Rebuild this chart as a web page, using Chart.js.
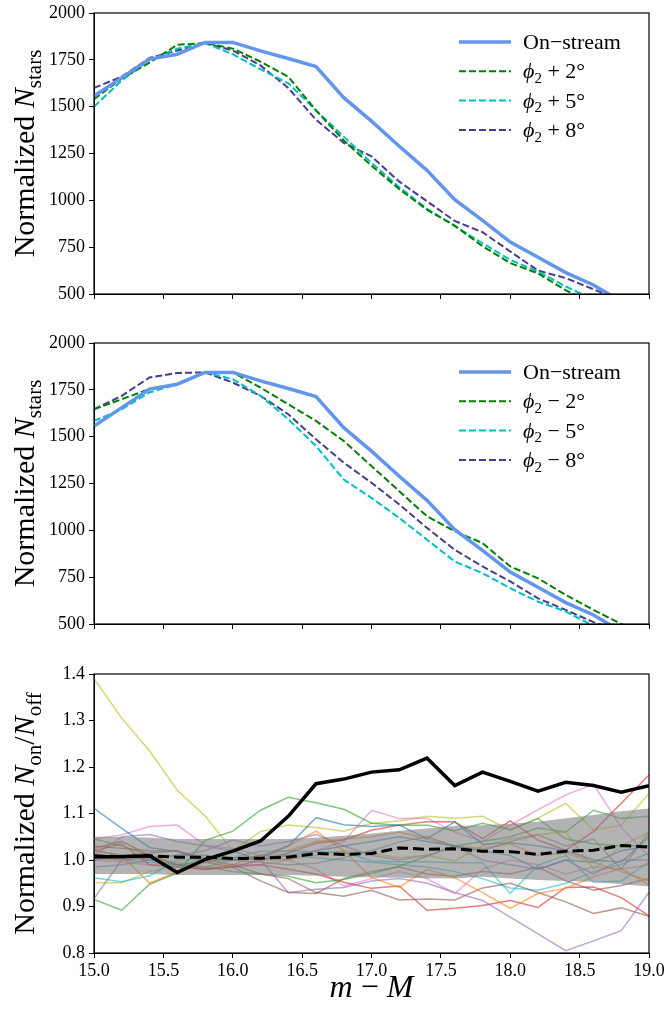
<!DOCTYPE html>
<html>
<head>
<meta charset="utf-8">
<script src="https://cdn.jsdelivr.net/npm/chart.js@4.4.0/dist/chart.umd.min.js"></script>
<style>
html, body { margin: 0; padding: 0; background: #fff; }
#wrap { position: relative; width: 666px; height: 1013px; }
canvas { position: absolute; left: 0; }
</style>
</head>
<body>
<div id="wrap">
<canvas id="graficoMais" width="666" height="310" style="top:0px"></canvas>
<canvas id="graficoMenos" width="666" height="310" style="top:330px"></canvas>
<canvas id="graficoRazao" width="666" height="363" style="top:650px"></canvas>
</div>
<script>
// distance modulus grid
var xs = [15.0, 15.2, 15.4, 15.6, 15.8, 16.0, 16.2, 16.4, 16.6, 16.8, 17.0, 17.2, 17.4, 17.6, 17.8, 18.0, 18.2, 18.4, 18.6, 18.8, 19.0];

// panel 1 / 2 : normalized star counts
var onStream = [1557, 1655, 1754, 1780, 1843, 1843, 1798, 1757, 1714, 1548, 1423, 1289, 1160, 1003, 893, 777, 696, 614, 548, 460, 390];
var plus2  = [1540, 1650, 1735, 1830, 1840, 1810, 1740, 1660, 1480, 1320, 1185, 1060, 950, 865, 755, 665, 610, 520, 450, 400, 350];
var plus5  = [1500, 1640, 1750, 1810, 1840, 1780, 1700, 1625, 1480, 1340, 1200, 1070, 955, 862, 771, 682, 620, 540, 470, 420, 370];
var plus8  = [1600, 1660, 1760, 1800, 1840, 1800, 1720, 1600, 1430, 1307, 1235, 1100, 995, 890, 830, 727, 625, 585, 525, 465, 420];
var minus2 = [1646, 1700, 1754, 1780, 1843, 1843, 1762, 1673, 1584, 1477, 1343, 1209, 1075, 995, 932, 807, 744, 655, 575, 500, 430];
var minus5 = [1584, 1646, 1736, 1780, 1843, 1807, 1718, 1593, 1450, 1271, 1173, 1066, 950, 834, 771, 691, 619, 566, 490, 450, 400];
var minus8 = [1646, 1718, 1816, 1840, 1843, 1789, 1718, 1620, 1486, 1361, 1254, 1138, 1013, 896, 807, 727, 637, 575, 510, 460, 410];

var yTicksCounts = [500, 750, 1000, 1250, 1500, 1750, 2000];
var yTicksRatio = [0.8, 0.9, 1.0, 1.1, 1.2, 1.3, 1.4];
var xTicks = [15.0, 15.5, 16.0, 16.5, 17.0, 17.5, 18.0, 18.5, 19.0];

// panel 3 : on / off ratios
var ratioOn   = [1.007, 1.007, 1.009, 0.973, 1.001, 1.019, 1.041, 1.094, 1.164, 1.174, 1.189, 1.194, 1.219, 1.160, 1.189, 1.169, 1.148, 1.167, 1.160, 1.146, 1.160];
var ratioMean = [1.009, 1.007, 1.009, 1.006, 1.006, 1.003, 1.004, 1.006, 1.014, 1.012, 1.014, 1.026, 1.023, 1.024, 1.019, 1.018, 1.012, 1.019, 1.021, 1.031, 1.028];
var bandHi = [1.050, 1.050, 1.048, 1.045, 1.045, 1.045, 1.045, 1.045, 1.048, 1.052, 1.057, 1.063, 1.068, 1.073, 1.075, 1.078, 1.082, 1.090, 1.097, 1.105, 1.111];
var bandLo = [0.970, 0.970, 0.970, 0.968, 0.968, 0.968, 0.968, 0.968, 0.966, 0.964, 0.963, 0.962, 0.961, 0.960, 0.964, 0.960, 0.957, 0.955, 0.953, 0.948, 0.943];

// individual off-stream fields
var offOliveA = [1.390, 1.305, 1.235, 1.150, 1.095, 1.020, 1.000, 1.000, 1.010, 1.020, 1.015, 1.005, 1.010, 0.998, 1.030, 1.045, 1.055, 1.060, 0.980, 1.030, 1.060];
var offOliveB = [0.951, 0.951, 0.975, 0.990, 1.000, 1.020, 1.061, 1.075, 1.070, 1.062, 1.079, 1.084, 1.094, 1.090, 1.094, 1.064, 1.090, 1.122, 1.064, 1.075, 1.143];
var offGreenA = [0.915, 0.892, 0.948, 0.972, 1.042, 1.062, 1.107, 1.135, 1.123, 1.109, 1.079, 1.075, 1.075, 1.063, 1.079, 1.065, 1.089, 1.045, 1.035, 1.030, 1.030];
var offGreenB = [1.045, 1.030, 1.010, 0.990, 0.985, 0.975, 0.970, 0.965, 0.951, 0.958, 0.971, 0.987, 1.008, 1.030, 1.040, 1.050, 1.069, 1.060, 1.107, 1.089, 1.094];
var offBlueA  = [1.111, 1.068, 1.027, 1.018, 1.005, 1.000, 1.005, 1.030, 1.091, 1.076, 1.072, 1.075, 1.046, 1.082, 1.034, 1.037, 1.030, 1.020, 1.000, 0.995, 1.050];
var offBlueB  = [1.000, 1.010, 1.000, 0.990, 0.995, 1.005, 1.000, 1.010, 1.020, 1.030, 1.040, 1.050, 1.040, 1.030, 1.020, 1.010, 0.980, 1.000, 0.995, 1.020, 1.030];
var offCyanA  = [0.962, 0.953, 0.966, 1.000, 1.000, 1.005, 1.019, 1.020, 1.018, 1.017, 0.998, 0.996, 0.996, 0.994, 0.994, 0.928, 0.989, 1.010, 0.952, 0.955, 0.996];
var offCyanB  = [1.005, 1.000, 0.995, 0.990, 0.985, 1.000, 1.010, 1.010, 1.005, 1.000, 0.995, 0.990, 0.985, 0.975, 0.960, 0.940, 0.935, 0.950, 0.975, 0.990, 1.015];
var offRedA   = [1.020, 1.035, 0.990, 0.985, 0.980, 0.985, 1.000, 1.015, 1.036, 1.043, 1.064, 1.075, 1.082, 1.082, 1.046, 1.084, 1.043, 1.021, 1.061, 1.122, 1.183];
var offRedB   = [1.025, 1.040, 1.010, 0.990, 0.980, 0.985, 0.990, 0.980, 0.970, 0.952, 0.939, 0.944, 0.892, 0.896, 0.902, 0.913, 0.898, 0.941, 0.942, 0.919, 0.880];
var offPinkA  = [1.045, 1.054, 1.072, 1.075, 1.032, 1.025, 1.010, 1.000, 1.020, 1.040, 1.107, 1.089, 1.090, 1.060, 1.040, 1.075, 1.108, 1.140, 1.163, 1.070, 1.008];
var offPinkB  = [1.000, 0.995, 0.990, 0.985, 0.980, 0.990, 0.990, 1.000, 0.980, 0.944, 0.960, 0.975, 0.960, 0.928, 0.980, 1.000, 0.990, 0.970, 0.985, 0.980, 0.990];
var offPurpA  = [1.010, 1.050, 1.055, 1.040, 1.030, 1.020, 1.000, 0.930, 0.937, 0.941, 0.955, 0.960, 0.950, 0.930, 0.913, 0.877, 0.841, 0.805, 0.826, 0.848, 0.930];
var offPurpB  = [0.985, 0.990, 1.000, 1.010, 1.020, 1.043, 1.030, 1.040, 1.055, 1.030, 1.010, 1.000, 1.010, 1.030, 1.000, 0.990, 0.980, 1.000, 0.970, 1.000, 1.000];
var offOrangA = [1.020, 1.010, 0.950, 0.975, 0.995, 1.000, 1.010, 1.030, 1.062, 1.020, 0.962, 0.941, 0.980, 0.962, 0.930, 0.896, 0.928, 0.939, 0.964, 0.982, 0.946];
var offOrangB = [1.005, 1.000, 1.005, 0.995, 0.985, 0.990, 1.010, 1.020, 1.040, 1.045, 1.050, 1.060, 1.045, 1.030, 1.025, 1.035, 1.010, 1.015, 0.995, 0.975, 0.955];
var offBrownA = [1.020, 1.010, 1.015, 1.020, 1.000, 0.990, 0.970, 0.960, 0.930, 0.922, 0.935, 0.914, 0.916, 0.914, 0.940, 0.950, 0.930, 0.910, 0.885, 0.897, 0.879];
var offBrownB = [1.030, 1.025, 1.020, 1.020, 0.995, 0.985, 0.955, 0.930, 0.928, 0.960, 0.975, 0.985, 0.970, 0.965, 0.975, 0.970, 0.985, 0.955, 0.935, 0.945, 0.960];
var offGray   = [0.917, 1.000, 1.005, 1.010, 1.010, 1.000, 0.995, 0.990, 0.993, 1.005, 1.020, 1.039, 1.050, 1.030, 1.020, 1.040, 1.054, 1.030, 1.045, 0.980, 1.060];

var offLines = [offBlueA, offOrangA, offGreenA, offRedA, offPurpA, offBrownA, offPinkA, offGray, offOliveA, offCyanA,
                offBlueB, offOrangB, offGreenB, offRedB, offPurpB, offBrownB, offPinkB, offOliveB, offCyanB];
var offColors = ['31,119,180', '255,127,14', '44,160,44', '214,39,40', '148,103,189', '140,86,75', '227,119,194', '127,127,127', '188,189,34', '23,190,207',
                 '31,119,180', '255,127,14', '44,160,44', '214,39,40', '148,103,189', '140,86,75', '227,119,194', '188,189,34', '23,190,207'];

var SERIF = "'Liberation Serif', 'DejaVu Serif', serif";

function pontos(ys) {
	return xs.map(function(x, i){ return {x: x, y: ys[i]}; });
}

function fonte(t, tam) {
	return (t.it ? 'italic ' : '') + Math.round(tam * (t.s || 1)) + 'px ' + SERIF;
}

function desenharTrechos(ctx, trechos, x, y, tam, centro) {
	var total = 0;
	trechos.forEach(function(t){ ctx.font = fonte(t, tam); total += ctx.measureText(t.t).width; });
	var cx = centro ? x - total / 2 : x;
	trechos.forEach(function(t){
		ctx.font = fonte(t, tam);
		ctx.fillText(t.t, cx, y + (t.dy || 0) * tam);
		cx += ctx.measureText(t.t).width;
	});
}

// frame, axis titles and legend
var textos = {
	id: 'textos',
	afterDraw: function(chart, args, opts){
		var a = chart.chartArea, c = chart.ctx;
		c.save();
		c.strokeStyle = '#000';
		c.lineWidth = 1.2;
		c.strokeRect(a.left, a.top, a.right - a.left, a.bottom - a.top);
		c.fillStyle = '#000';
		c.textBaseline = 'alphabetic';
		if (opts.tituloY) {
			c.save();
			c.translate(34, (a.top + a.bottom) / 2);
			c.rotate(-Math.PI / 2);
			desenharTrechos(c, opts.tituloY, 0, 0, 30, true);
			c.restore();
		}
		if (opts.tituloX) {
			desenharTrechos(c, opts.tituloX, (a.left + a.right) / 2, a.bottom + 44, 32, true);
		}
		(opts.legenda || []).forEach(function(item, i){
			var y = a.top + 29 + i * 29.3;
			c.save();
			c.strokeStyle = item.cor;
			c.lineWidth = item.largura;
			c.setLineDash(item.tracejado || []);
			c.beginPath();
			c.moveTo(a.left + 365, y);
			c.lineTo(a.left + 417, y);
			c.stroke();
			c.restore();
			desenharTrechos(c, item.texto, a.left + 429, y + 7, 22, false);
		});
		c.restore();
	}
};

function eixos(yMin, yMax, yTicks, mostrarX, alturaX, casas) {
	var grade = {drawOnChartArea: false, color: '#000', tickLength: 5, lineWidth: 1};
	return {
		x: {
			type: 'linear', min: 15, max: 19,
			afterBuildTicks: function(s){ s.ticks = xTicks.map(function(v){ return {value: v}; }); },
			ticks: {display: mostrarX, color: '#000', font: {family: SERIF, size: 18}, padding: 2, maxRotation: 0, autoSkip: false,
				callback: function(v){ return Number(v).toFixed(1); }},
			grid: grade,
			border: {color: '#000', width: 1},
			afterFit: function(s){ s.height = alturaX; s.paddingLeft = 0; s.paddingRight = 0; }
		},
		y: {
			min: yMin, max: yMax,
			afterBuildTicks: function(s){ s.ticks = yTicks.map(function(v){ return {value: v}; }); },
			ticks: {color: '#000', font: {family: SERIF, size: 18}, padding: 4, autoSkip: false,
				callback: function(v){ return Number(v).toFixed(casas); }},
			grid: grade,
			border: {color: '#000', width: 1},
			afterFit: function(s){ s.width = 94; s.paddingTop = 0; s.paddingBottom = 0; }
		}
	};
}

function linha(dados, cor, largura, tracejado, ordem) {
	return {data: pontos(dados), borderColor: cor, borderWidth: largura, borderDash: tracejado || [],
		pointRadius: 0, tension: 0, fill: false, order: ordem};
}

function tituloContagem() {
	return [{t: 'Normalized '}, {t: 'N', it: true}, {t: 'stars', s: 0.7, dy: 0.22}];
}

function legendaContagem(sinal) {
	var cores = ['#008000', '#00BFBF', '#483D8B'];
	var graus = ['2°', '5°', '8°'];
	var itens = [{cor: '#6495ED', largura: 3.5, texto: [{t: 'On\u2212stream'}]}];
	graus.forEach(function(g, i){
		itens.push({cor: cores[i], largura: 2, tracejado: [7, 3],
			texto: [{t: '\u03D5', it: true}, {t: '2', s: 0.7, dy: 0.22}, {t: ' ' + sinal + ' ' + g}]});
	});
	return itens;
}

function graficoContagem(id, d2, d5, d8, sinal) {
	return new Chart(document.getElementById(id).getContext('2d'), {
		type: 'line',
		data: {
			datasets: [
				linha(onStream, '#6495ED', 3.5, null, 0),
				linha(d2, '#008000', 2, [7, 3], 1),
				linha(d5, '#00BFBF', 2, [7, 3], 2),
				linha(d8, '#483D8B', 2, [7, 3], 3)
			]
		},
		options: {
			responsive: false, animation: false,
			layout: {padding: {left: 0, right: 17, top: 13, bottom: 0}},
			scales: eixos(500, 2000, yTicksCounts, false, 16, 0),
			plugins: {legend: {display: false}, tooltip: {enabled: false},
				textos: {tituloY: tituloContagem(), legenda: legendaContagem(sinal)}}
		},
		plugins: [textos]
	});
}

graficoContagem('graficoMais', plus2, plus5, plus8, '+');
graficoContagem('graficoMenos', minus2, minus5, minus8, '\u2212');

var conjuntos = [
	linha(ratioOn, '#000', 3.5, null, 0),
	linha(ratioMean, '#000', 3, [11, 5], 1),
	{data: pontos(bandHi), borderWidth: 0, pointRadius: 0, backgroundColor: 'rgba(128,128,128,0.6)', fill: '+1', order: 2},
	{data: pontos(bandLo), borderWidth: 0, pointRadius: 0, fill: false, order: 3}
];
offLines.forEach(function(l, i){
	conjuntos.push(linha(l, 'rgba(' + offColors[i] + ',0.6)', 1.5, null, 10 + i));
});

new Chart(document.getElementById('graficoRazao').getContext('2d'), {
	type: 'line',
	data: {datasets: conjuntos},
	options: {
		responsive: false, animation: false,
		layout: {padding: {left: 0, right: 17, top: 24, bottom: 0}},
		scales: eixos(0.8, 1.4, yTicksRatio, true, 60, 1),
		plugins: {legend: {display: false}, tooltip: {enabled: false},
			textos: {
				tituloY: [{t: 'Normalized '}, {t: 'N', it: true}, {t: 'on', s: 0.7, dy: 0.22}, {t: '/'}, {t: 'N', it: true}, {t: 'off', s: 0.7, dy: 0.22}],
				tituloX: [{t: 'm', it: true}, {t: ' \u2212 '}, {t: 'M', it: true}]
			}}
	},
	plugins: [textos]
});
</script>
</body>
</html>
